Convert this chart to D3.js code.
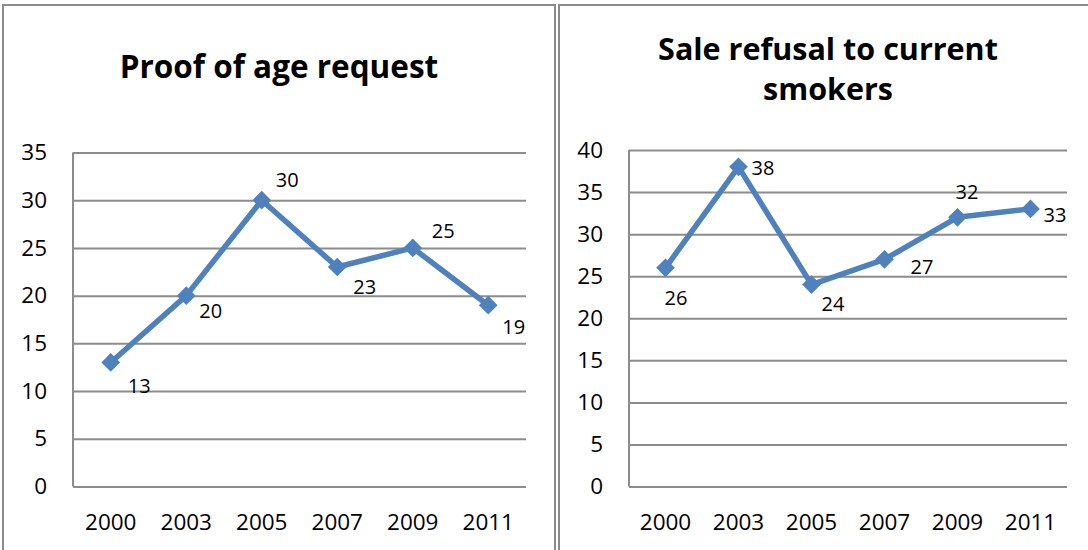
<!DOCTYPE html>
<html>
<head>
<meta charset="utf-8">
<script src="https://cdn.jsdelivr.net/npm/d3@7"></script>
<style>
  html, body { margin: 0; padding: 0; background: #fff; }
  svg { display: block; }
  text { font-family: "Open Sans", "Liberation Sans", sans-serif; fill: #000; }
</style>
</head>
<body>
<svg id="chart" width="1088" height="550"></svg>
<script>
// ---- data ----
const years = ["2000", "2003", "2005", "2007", "2009", "2011"];
const proofOfAge = [13, 20, 30, 23, 25, 19];
const saleRefusal = [26, 38, 24, 27, 32, 33];
const proofTicks = [0, 5, 10, 15, 20, 25, 30, 35];
const refusalTicks = [0, 5, 10, 15, 20, 25, 30, 35, 40];
const proofTitle = ["Proof of age request"];
const refusalTitle = ["Sale refusal to current", "smokers"];

// ---- layout (positions / styles only) ----
const proofLabelOffsets = [[17, 24], [13, 15], [14, -20], [16, 20], [19, -17], [14, 22]];
const refusalLabelOffsets = [[-1, 30], [13, 1], [10, 19], [26, 8], [-2, -25], [13, 6]];

const charts = [
  {
    frame: { x: 3, y: 5, w: 552, h: 600 },
    plot: { x0: 73, x1: 526, y0: 152.5, y1: 486.5 },
    title: proofTitle, titleX: 279, titleY: 78, titleGap: 40, titleSize: 31.5,
    values: proofOfAge, ticks: proofTicks, offsets: proofLabelOffsets
  },
  {
    frame: { x: 559, y: 5, w: 560, h: 600 },
    plot: { x0: 629, x1: 1067, y0: 150, y1: 486.5 },
    title: refusalTitle, titleX: 828, titleY: 60, titleGap: 40, titleSize: 30.5,
    values: saleRefusal, ticks: refusalTicks, offsets: refusalLabelOffsets
  }
];

const BLUE = "#4F81BD";
const GRID = "#8C8C8C";
const svg = d3.select("#chart");

charts.forEach(c => {
  const g = svg.append("g");

  // outer frame
  g.append("rect")
    .attr("x", c.frame.x).attr("y", c.frame.y)
    .attr("width", c.frame.w).attr("height", c.frame.h)
    .attr("fill", "#fff").attr("stroke", GRID).attr("stroke-width", 2);

  // title
  c.title.forEach((line, i) => {
    g.append("text")
      .attr("x", c.titleX).attr("y", c.titleY + i * c.titleGap)
      .attr("text-anchor", "middle")
      .style("font-weight", "bold").style("font-size", c.titleSize + "px")
      .text(line);
  });

  const x = d3.scaleBand().domain(years).range([c.plot.x0, c.plot.x1]);
  const yMax = c.ticks[c.ticks.length - 1];
  const y = d3.scaleLinear().domain([0, yMax]).range([c.plot.y1, c.plot.y0]);

  // gridlines + y labels
  const yAxis = g.append("g")
    .attr("transform", `translate(${c.plot.x0},0)`)
    .call(d3.axisLeft(y).tickValues(c.ticks).tickSize(-(c.plot.x1 - c.plot.x0)).tickPadding(26).tickFormat(d3.format("d")));
  yAxis.select(".domain").remove();
  yAxis.selectAll(".tick line").attr("stroke", GRID).attr("stroke-width", 2);
  yAxis.selectAll(".tick text").style("font-size", "22.5px").attr("fill", "#000");

  // vertical axis line
  g.append("line")
    .attr("x1", c.plot.x0).attr("x2", c.plot.x0)
    .attr("y1", y(yMax)).attr("y2", y(0))
    .attr("stroke", GRID).attr("stroke-width", 2);

  // x axis labels
  const xAxis = g.append("g")
    .attr("transform", `translate(0,${c.plot.y1})`)
    .call(d3.axisBottom(x).tickSize(0).tickPadding(0));
  xAxis.select(".domain").remove();
  xAxis.selectAll(".tick text")
    .attr("y", 43).attr("dy", null)
    .style("font-size", "22.5px").attr("fill", "#000");

  const pts = c.values.map((v, i) => ({ year: years[i], v, off: c.offsets[i] }));
  const cx = d => x(d.year) + x.bandwidth() / 2;

  // line
  g.append("path")
    .datum(pts)
    .attr("fill", "none").attr("stroke", BLUE).attr("stroke-width", 5.5)
    .attr("stroke-linejoin", "round")
    .attr("d", d3.line().x(cx).y(d => y(d.v)));

  // diamond markers
  const sym = d3.symbol().type(d3.symbolSquare).size(175);
  g.selectAll("path.marker").data(pts).join("path")
    .attr("class", "marker")
    .attr("d", sym)
    .attr("fill", BLUE)
    .attr("transform", d => `translate(${cx(d)},${y(d.v)}) rotate(45)`);

  // data labels
  g.selectAll("text.dl").data(pts).join("text")
    .attr("class", "dl")
    .attr("x", d => cx(d) + d.off[0])
    .attr("y", d => y(d.v) + d.off[1])
    .attr("dy", "0.35em")
    .style("font-size", "20px")
    .text(d => d.v);
});
</script>
</body>
</html>
